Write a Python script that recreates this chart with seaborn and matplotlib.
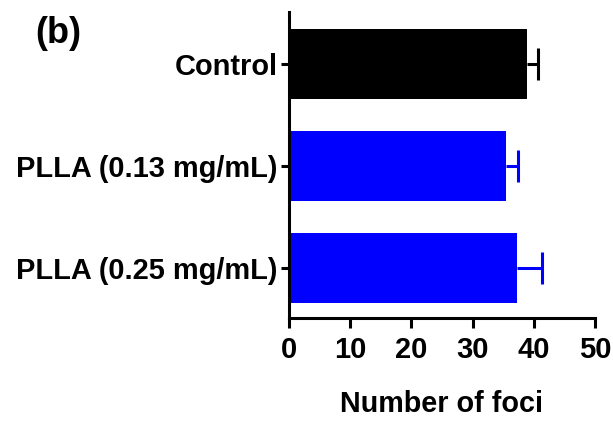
import numpy as np
import pandas as pd
import matplotlib
matplotlib.use("Agg")
import matplotlib.pyplot as plt
import seaborn as sns

groups = ["Control", "PLLA (0.13 mg/mL)", "PLLA (0.25 mg/mL)"]
mean_foci = [38.9, 35.5, 37.2]
sem_foci = [1.8, 1.9, 4.2]
bar_colors = ["#000000", "#0000FF", "#0000FF"]

sns.set_theme(style="ticks")
plt.rcParams["font.family"] = ["Liberation Sans", "DejaVu Sans"]
plt.rcParams["font.weight"] = "bold"
plt.rcParams["text.color"] = "black"
plt.rcParams["axes.labelcolor"] = "black"

df = pd.DataFrame({"group": groups, "foci": mean_foci})

fig = plt.figure(figsize=(6.13, 4.21), dpi=100)
ax = fig.add_axes([0.4715, 0.2447, 0.499, 0.7268])

sns.barplot(data=df, x="foci", y="group", hue="group", palette=bar_colors,
            order=groups, orient="h", width=0.69, legend=False, ax=ax,
            edgecolor="none", errorbar=None, saturation=1)

# one-sided (upper) error bars with a cap at the end only
cap_half = 0.16
for i in range(len(groups)):
    hi = mean_foci[i] + sem_foci[i]
    ax.plot([mean_foci[i], hi], [i, i], color=bar_colors[i], lw=2.2,
            solid_capstyle="butt", zorder=3)
    ax.plot([hi, hi], [i - cap_half, i + cap_half], color=bar_colors[i], lw=2.2,
            solid_capstyle="butt", zorder=3)

ax.set_xlim(0, 50)
ax.set_ylim(2.49, -0.51)
ax.set_xticks([0, 10, 20, 30, 40, 50])
ax.set_xlabel("Number of foci", fontsize=20.7, fontweight="bold", labelpad=19,
              color="black")
ax.set_ylabel("")

for side in ["top", "right"]:
    ax.spines[side].set_visible(False)
for side in ["left", "bottom"]:
    ax.spines[side].set_linewidth(2.2)
    ax.spines[side].set_color("black")

ax.tick_params(axis="x", length=7, width=2.2, labelsize=21, pad=6,
               colors="black", labelcolor="black")
ax.tick_params(axis="y", length=6, width=2.2, labelsize=20.9, pad=2,
               colors="black", labelcolor="black")
for lab in ax.get_xticklabels() + ax.get_yticklabels():
    lab.set_fontweight("bold")

fig.text(0.057, 0.898, "(b)", fontsize=26, fontweight="bold", ha="left",
         va="baseline", color="black")

fig.savefig("out.png", dpi=100, facecolor="white")
